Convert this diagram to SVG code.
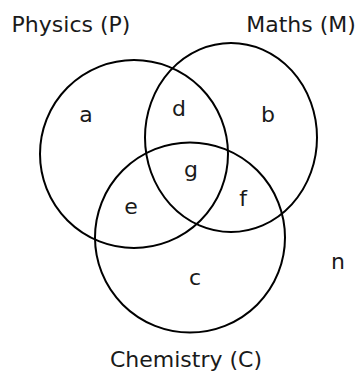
<svg xmlns="http://www.w3.org/2000/svg" width="360" height="372" viewBox="0 0 360 372">
<style>
.set{fill:none;stroke:#000;stroke-width:2}
text{font-family:"DejaVu Sans","Liberation Sans",sans-serif;font-size:22px;fill:#1a1a1a;text-anchor:middle}
</style>
<rect width="360" height="372" fill="#fff"/>
<g id="P"><circle class="set" cx="134" cy="154" r="94"/><text x="71" y="32">Physics (P)</text></g>
<g id="M"><ellipse class="set" cx="231" cy="137.5" rx="86" ry="94.5"/><text x="301" y="32">Maths (M)</text></g>
<g id="C"><circle class="set" cx="190" cy="237.5" r="95"/><text x="186" y="367">Chemistry (C)</text></g>
<g id="regions">
<text x="86" y="122">a</text>
<text x="268" y="122">b</text>
<text x="195" y="285">c</text>
<text x="179" y="116">d</text>
<text x="131" y="214">e</text>
<text x="243" y="206">f</text>
<text x="191" y="177">g</text>
<text x="338" y="269">n</text>
</g>
</svg>
